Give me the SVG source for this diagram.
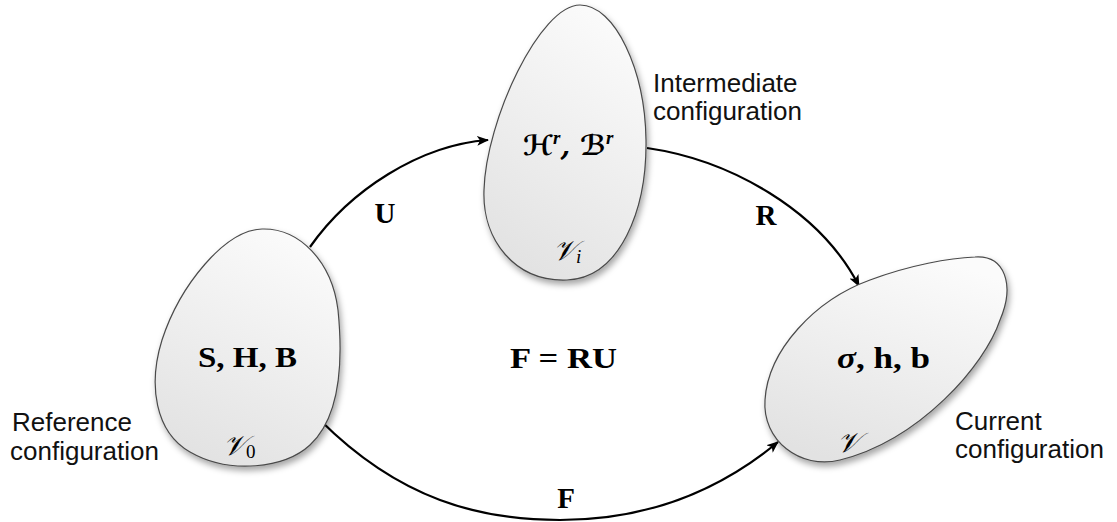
<svg xmlns="http://www.w3.org/2000/svg" width="1117" height="522" viewBox="0 0 1117 522">
<style>
.blob{fill:url(#g);stroke:#4a4a4a;stroke-width:1.2;filter:url(#sh)}
.lbl{font-family:"Liberation Sans",Arial,sans-serif;font-size:26px;fill:#111}
.m{font-family:"Liberation Serif","Times New Roman",serif;font-weight:bold;font-size:29px;fill:#000}
.cal{font-family:"DejaVu Serif","DejaVu Sans",serif;font-style:italic;font-size:28px;fill:#000}
.sub{font-family:"Liberation Serif",serif;font-size:19px;fill:#000}
.con{fill:none;stroke:#000;stroke-width:2.2}
</style>
<defs>
<linearGradient id="g" x1="0.7" y1="0" x2="0.3" y2="1">
<stop offset="0" stop-color="#fbfbfb"/>
<stop offset="1" stop-color="#e2e2e2"/>
</linearGradient>
<filter id="sh" x="-20%" y="-20%" width="140%" height="140%">
<feDropShadow dx="2" dy="4" stdDeviation="3" flood-color="#000" flood-opacity="0.35"/>
</filter>
<marker id="ah" viewBox="0 0 12 10" refX="11" refY="5" markerWidth="12" markerHeight="10" markerUnits="userSpaceOnUse" orient="auto">
<path d="M0,0 L12,5 L0,10 L3,5 Z" fill="#000"/>
</marker>
</defs>
<g id="connectors">
<path class="con" d="M310,247 C350,190 420,145 488,140" marker-end="url(#ah)"/>
<path class="con" d="M647,148 C730,160 820,210 859,286" marker-end="url(#ah)"/>
<path class="con" d="M320,420 C400,500 480,520 560,520 C650,520 720,490 778,442" marker-end="url(#ah)"/>
<text class="m" x="385" y="223" text-anchor="middle">U</text>
<text class="m" x="766" y="225" text-anchor="middle">R</text>
<text class="m" x="566" y="508" text-anchor="middle">F</text>
<text class="m" x="510" y="368" textLength="107" lengthAdjust="spacingAndGlyphs">F = RU</text>
</g>
<g id="reference">
<path class="blob" d="M262,229 C300,228 332,262 338,310 C344,370 337,420 310,445 C285,468 230,475 190,452 C155,432 148,385 162,340 C180,285 225,230 262,229 Z"/>
<text class="m" x="198" y="367" textLength="99" lengthAdjust="spacingAndGlyphs">S, H, B</text>
<text class="cal" x="223" y="455">𝒱<tspan class="sub" font-style="normal" dy="3">0</tspan></text>
<text class="lbl" x="12" y="431">Reference</text>
<text class="lbl" x="10" y="460">configuration</text>
</g>
<g id="intermediate">
<path class="blob" d="M580,5 C615,5 645,70 646,140 C647,210 620,278 567,280 C515,282 482,240 484,190 C486,120 540,5 580,5 Z"/>
<text class="cal" x="523" y="155" font-weight="bold">ℋ<tspan class="sub" font-style="italic" dy="-11">r</tspan><tspan dy="11">, ℬ</tspan><tspan class="sub" font-style="italic" dy="-11">r</tspan></text>
<text class="cal" x="553" y="260">𝒱<tspan class="sub" font-style="italic" dy="3">i</tspan></text>
<text class="lbl" x="653" y="92">Intermediate</text>
<text class="lbl" x="653" y="120">configuration</text>
</g>
<g id="current">
<path class="blob" d="M975,257 C1005,255 1015,285 1000,320 C985,365 920,440 840,460 C800,470 762,440 765,400 C768,350 815,300 870,280 C910,265 950,258 975,257 Z"/>
<text class="m" x="837" y="368" textLength="93" lengthAdjust="spacingAndGlyphs"><tspan font-style="italic">σ</tspan>, h, b</text>
<text class="cal" x="837" y="452">𝒱</text>
<text class="lbl" x="955" y="430">Current</text>
<text class="lbl" x="955" y="458">configuration</text>
</g>
</svg>
